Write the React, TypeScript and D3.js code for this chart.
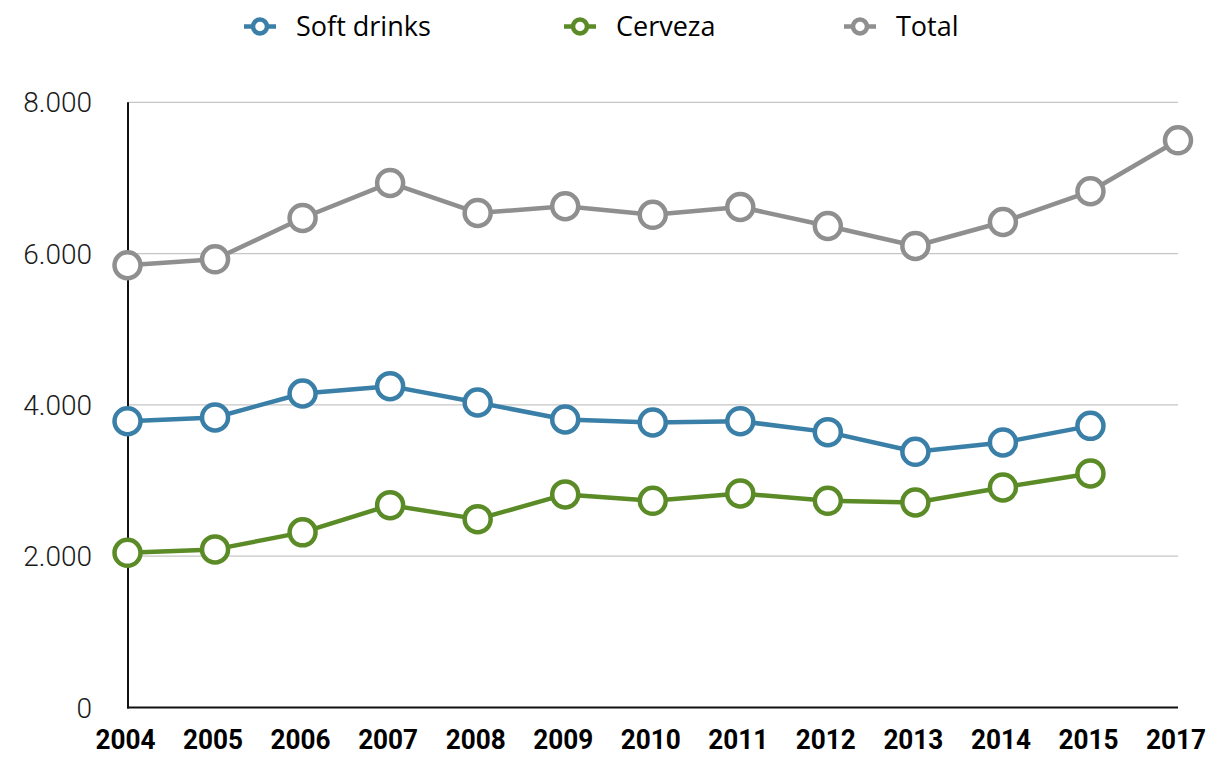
import React from "react";
import * as d3 from "d3";

const years = ["2004","2005","2006","2007","2008","2009","2010","2011","2012","2013","2014","2015","2017"];
const softDrinks: (number | null)[] = [3785,3834,4151,4248,4032,3808,3768,3785,3640,3380,3504,3723,null];
const cerveza: (number | null)[] = [2045,2090,2315,2675,2490,2817,2732,2830,2732,2711,2909,3094,null];
const total: (number | null)[] = [5846,5925,6471,6934,6537,6626,6513,6616,6365,6101,6418,6824,7498];
const yTicks = [0,2000,4000,6000,8000];
const yTickLabels = ["0","2.000","4.000","6.000","8.000"];

const seriesNames = ["Soft drinks","Cerveza","Total"];
const seriesColors = ["#3a7fa7","#5b8b27","#8f8f8f"];
const seriesData = [softDrinks, cerveza, total];

const W = 1210, H = 757;

export default function App() {
  const x = d3.scalePoint<string>().domain(years).range([127.5, 1178]);
  const y = d3.scaleLinear().domain([0, 8000]).range([707.5, 102.3]);
  const line = d3.line<number | null>()
    .defined(d => d != null)
    .x((_, i) => x(years[i]) as number)
    .y(d => y(d as number));

  const legendX = [260, 580, 860];

  return (
    <svg width={W} height={H} style={{ position: "absolute", left: 0, top: 0, background: "#fff" }}>
      {/* gridlines */}
      {yTicks.filter(t => t > 0).map(t => (
        <line key={t} x1={128} x2={1178} y1={y(t)} y2={y(t)} stroke="#c6c6c6" strokeWidth={1.2} />
      ))}
      {/* y tick labels */}
      {yTicks.map((t, i) => (
        <text key={t} x={92} y={y(t)} dy="0.36em" textAnchor="end"
          fontFamily="Roboto, 'Liberation Sans', sans-serif" fontWeight={300} fontSize={28} fill="#1a1a1a">
          {yTickLabels[i]}
        </text>
      ))}
      {/* axes */}
      <line x1={128} x2={128} y1={y(8000)} y2={y(0) + 1} stroke="#111" strokeWidth={2} />
      <line x1={127} x2={1178} y1={y(0)} y2={y(0)} stroke="#111" strokeWidth={2} />
      {/* x labels */}
      {years.map(yr => (
        <text key={yr} x={(x(yr) as number) - 2} y={749} textAnchor="middle"
          textLength={60} lengthAdjust="spacingAndGlyphs"
          fontFamily="'Liberation Sans Narrow', 'Arial Narrow', Roboto, sans-serif" fontWeight={700} fontSize={28} fill="#000">
          {yr}
        </text>
      ))}
      {/* lines */}
      {seriesData.map((data, si) => (
        <path key={si} d={line(data) || ""} fill="none" stroke={seriesColors[si]} strokeWidth={4.5} strokeLinejoin="round" />
      ))}
      {/* markers */}
      {seriesData.map((data, si) => (
        <g key={si}>
          {data.map((v, i) => v == null ? null : (
            <circle key={i} cx={x(years[i]) as number} cy={y(v)} r={13} fill="#fff" stroke={seriesColors[si]} strokeWidth={4.5} />
          ))}
        </g>
      ))}
      {/* legend */}
      {seriesNames.map((name, i) => (
        <g key={name} transform={`translate(${legendX[i]},26.5)`}>
          <line x1={-16} x2={16} y1={0} y2={0} stroke={seriesColors[i]} strokeWidth={4.5} />
          <circle cx={0} cy={0} r={7} fill="#fff" stroke={seriesColors[i]} strokeWidth={4.5} />
          <text x={36} y={0} dy="0.36em" fontFamily="'Open Sans', 'Noto Sans', sans-serif" fontSize={27} fill="#000">
            {name}
          </text>
        </g>
      ))}
    </svg>
  );
}
